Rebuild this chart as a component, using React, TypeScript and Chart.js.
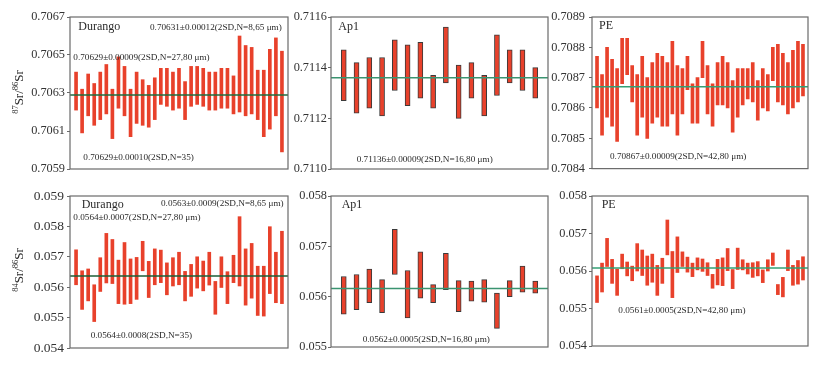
import React, { useEffect, useRef } from 'react';
import { Chart, registerables } from 'chart.js';
Chart.register(...registerables);

// ---------- data ----------
const durangoSrHi = [0.70641,0.70632,0.70640,0.70635,0.70641,0.70645,0.70632,0.70649,0.70644,0.70632,0.70641,0.70637,0.70634,0.70638,0.70643,0.70643,0.70641,0.70643,0.70636,0.70644,0.70644,0.70643,0.70641,0.70641,0.70643,0.70643,0.70639,0.70660,0.70655,0.70654,0.70642,0.70642,0.70653,0.70659,0.70652];
const durangoSrLo = [0.70621,0.70609,0.70618,0.70613,0.70616,0.70619,0.70606,0.70622,0.70618,0.70607,0.70614,0.70613,0.70612,0.70616,0.70624,0.70623,0.70621,0.70622,0.70616,0.70623,0.70624,0.70623,0.70621,0.70621,0.70622,0.70622,0.70619,0.70620,0.70618,0.70619,0.70616,0.70607,0.70611,0.70618,0.70599];
const ap1SrHi = [0.71147,0.71142,0.71144,0.71144,0.71151,0.71149,0.71150,0.71137,0.71156,0.71141,0.71142,0.71137,0.71153,0.71147,0.71147,0.71140];
const ap1SrLo = [0.71127,0.71122,0.71124,0.71121,0.71131,0.71125,0.71128,0.71124,0.71134,0.71120,0.71128,0.71121,0.71129,0.71134,0.71131,0.71128];
const peSrHi = [0.70877,0.70871,0.70880,0.70876,0.70873,0.70883,0.70883,0.70874,0.70871,0.70877,0.70870,0.70875,0.70878,0.70877,0.70875,0.70882,0.70874,0.70873,0.70877,0.70868,0.70870,0.70882,0.70874,0.70868,0.70875,0.70877,0.70875,0.70869,0.70873,0.70873,0.70873,0.70875,0.70869,0.70873,0.70871,0.70880,0.70881,0.70878,0.70875,0.70879,0.70882,0.70881];
const peSrLo = [0.70860,0.70851,0.70857,0.70854,0.70849,0.70868,0.70871,0.70862,0.70851,0.70857,0.70850,0.70855,0.70857,0.70854,0.70854,0.70858,0.70851,0.70858,0.70866,0.70855,0.70855,0.70870,0.70858,0.70854,0.70861,0.70861,0.70860,0.70852,0.70857,0.70861,0.70863,0.70862,0.70856,0.70860,0.70859,0.70869,0.70862,0.70861,0.70858,0.70860,0.70862,0.70864];

const durango84Hi = [0.05723,0.05654,0.05660,0.05608,0.05697,0.05777,0.05757,0.05689,0.05747,0.05693,0.05698,0.05751,0.05685,0.05726,0.05722,0.05680,0.05697,0.05715,0.05652,0.05675,0.05700,0.05686,0.05715,0.05619,0.05700,0.05651,0.05705,0.05832,0.05726,0.05744,0.05669,0.05669,0.05799,0.05715,0.05784];
const durango84Lo = [0.05608,0.05527,0.05555,0.05487,0.05586,0.05614,0.05612,0.05546,0.05544,0.05546,0.05560,0.05654,0.05566,0.05608,0.05615,0.05575,0.05604,0.05608,0.05555,0.05570,0.05597,0.05588,0.05607,0.05511,0.05599,0.05546,0.05615,0.05604,0.05541,0.05564,0.05507,0.05505,0.05579,0.05549,0.05546];
const ap184Hi = [0.05640,0.05644,0.05655,0.05634,0.05734,0.05652,0.05689,0.05624,0.05686,0.05632,0.05631,0.05634,0.05607,0.05632,0.05661,0.05631];
const ap184Lo = [0.05565,0.05574,0.05588,0.05568,0.05644,0.05558,0.05597,0.05588,0.05614,0.05570,0.05591,0.05589,0.05537,0.05600,0.05609,0.05607];
const pe84Hi = [0.05587,0.05621,0.05687,0.05631,0.05605,0.05645,0.05624,0.05613,0.05673,0.05656,0.05640,0.05645,0.05615,0.05634,0.05736,0.05652,0.05691,0.05651,0.05637,0.05621,0.05635,0.05632,0.05622,0.05591,0.05631,0.05635,0.05660,0.05604,0.05661,0.05630,0.05621,0.05622,0.05625,0.05603,0.05630,0.05648,0.05564,0.05583,0.05656,0.05615,0.05628,0.05638];
const pe84Lo = [0.05516,0.05544,0.05612,0.05567,0.05535,0.05606,0.05587,0.05574,0.05600,0.05588,0.05562,0.05570,0.05535,0.05567,0.05643,0.05529,0.05596,0.05612,0.05597,0.05585,0.05603,0.05599,0.05588,0.05554,0.05563,0.05561,0.05601,0.05553,0.05604,0.05603,0.05592,0.05583,0.05587,0.05569,0.05600,0.05615,0.05537,0.05531,0.05601,0.05562,0.05565,0.05576];

const means = [0.70629, 0.71136, 0.70867, 0.05637, 0.05616, 0.05608];

const ticksDurangoSr = [0.7059, 0.7061, 0.7063, 0.7065, 0.7067];
const ticksAp1Sr = [0.7110, 0.7112, 0.7114, 0.7116];
const ticksPeSr = [0.7084, 0.7085, 0.7086, 0.7087, 0.7088, 0.7089];
const ticksDurango84 = [0.054, 0.055, 0.056, 0.057, 0.058, 0.059];
const ticksAp184 = [0.055, 0.056, 0.057, 0.058];
const ticksPe84 = [0.054, 0.055, 0.056, 0.057, 0.058];

const titlesTop = ['Durango', 'Ap1', 'PE'];
const notesDurangoSr = ['0.70631±0.00012(2SD,N=8,65 μm)', '0.70629±0.00009(2SD,N=27,80 μm)', '0.70629±0.00010(2SD,N=35)'];
const notesAp1Sr = ['0.71136±0.00009(2SD,N=16,80 μm)'];
const notesPeSr = ['0.70867±0.00009(2SD,N=42,80 μm)'];
const notesDurango84 = ['0.0563±0.0009(2SD,N=8,65 μm)', '0.0564±0.0007(2SD,N=27,80 μm)', '0.0564±0.0008(2SD,N=35)'];
const notesAp184 = ['0.0562±0.0005(2SD,N=16,80 μm)'];
const notesPe84 = ['0.0561±0.0005(2SD,N=42,80 μm)'];

// ---------- layout ----------
type Note = { text: string; dx: number; dy: number; size: number };
type Panel = {
  hi: number[]; lo: number[]; mean: number; ticks: number[]; dec: number;
  canvas: [number, number, number, number]; box: [number, number, number, number];
  lineColor: string; barW: number; barBorder: number; tickPad: number; tickSize: number;
  notes: Note[]; ytitle?: { main: string; sup: string; cx: number; cy: number };
};

const SERIF = "'Liberation Serif', 'Times New Roman', serif";

const panels: Panel[] = [
  {
    hi: durangoSrHi, lo: durangoSrLo, mean: means[0], ticks: ticksDurangoSr, dec: 4,
    canvas: [0, 0, 292, 180], box: [70, 17, 288, 169], lineColor: '#1f6b3e', barW: 3, barBorder: 0,
    tickPad: 2, tickSize: 12.3,
    notes: [
      { text: titlesTop[0], dx: 8.3, dy: 9.5, size: 12 },
      { text: notesDurangoSr[0], dx: 80, dy: 11, size: 9.2 },
      { text: notesDurangoSr[1], dx: 3.3, dy: 40.3, size: 9.2 },
      { text: notesDurangoSr[2], dx: 13.3, dy: 140.7, size: 9.2 },
    ],
    ytitle: { main: '87', sup: '86', cx: 23, cy: 92 },
  },
  {
    hi: ap1SrHi, lo: ap1SrLo, mean: means[1], ticks: ticksAp1Sr, dec: 4,
    canvas: [286, 0, 552, 180], box: [331, 17, 548, 169], lineColor: '#3a9470', barW: 5, barBorder: 1,
    tickPad: 1, tickSize: 12.3,
    notes: [
      { text: titlesTop[1], dx: 7.3, dy: 9.5, size: 12 },
      { text: notesAp1Sr[0], dx: 25.7, dy: 143, size: 9.2 },
    ],
  },
  {
    hi: peSrHi, lo: peSrLo, mean: means[2], ticks: ticksPeSr, dec: 4,
    canvas: [547, 0, 812, 180], box: [592, 17, 808, 169], lineColor: '#33a074', barW: 3, barBorder: 0,
    tickPad: 4, tickSize: 12.3,
    notes: [
      { text: titlesTop[2], dx: 7, dy: 8.5, size: 12 },
      { text: notesPeSr[0], dx: 18, dy: 139.7, size: 9.2 },
    ],
  },
  {
    hi: durango84Hi, lo: durango84Lo, mean: means[3], ticks: ticksDurango84, dec: 3,
    canvas: [0, 180, 292, 370], box: [70, 196, 288, 348], lineColor: '#1d5e36', barW: 3, barBorder: 0,
    tickPad: 3, tickSize: 13.5,
    notes: [
      { text: titlesTop[0], dx: 11.7, dy: 8.5, size: 12 },
      { text: notesDurango84[0], dx: 91, dy: 8, size: 9.2 },
      { text: notesDurango84[1], dx: 3.3, dy: 21.7, size: 9.2 },
      { text: notesDurango84[2], dx: 20.7, dy: 139.3, size: 9.2 },
    ],
    ytitle: { main: '84', sup: '86', cx: 23, cy: 270 },
  },
  {
    hi: ap184Hi, lo: ap184Lo, mean: means[4], ticks: ticksAp184, dec: 3,
    canvas: [286, 180, 552, 370], box: [331, 196, 548, 347], lineColor: '#3a9470', barW: 5, barBorder: 1,
    tickPad: 1, tickSize: 12.3,
    notes: [
      { text: titlesTop[1], dx: 10.7, dy: 8.5, size: 12 },
      { text: notesAp184[0], dx: 31.7, dy: 143.3, size: 9.2 },
    ],
  },
  {
    hi: pe84Hi, lo: pe84Lo, mean: means[5], ticks: ticksPe84, dec: 3,
    canvas: [547, 180, 812, 370], box: [592, 196, 808, 346], lineColor: '#33a074', barW: 3, barBorder: 0,
    tickPad: 2, tickSize: 12.3,
    notes: [
      { text: titlesTop[2], dx: 9.7, dy: 8.5, size: 12 },
      { text: notesPe84[0], dx: 26.3, dy: 115, size: 9.2 },
    ],
  },
];

function PanelChart({ p }: { p: Panel }) {
  const ref = useRef<HTMLCanvasElement>(null);
  const [cl, ct, cr, cb] = p.canvas;
  const [bl, bt, br, bb] = p.box;
  const w = cr - cl;
  const h = cb - ct;

  useEffect(() => {
    const canvas = ref.current!;
    const n = p.hi.length;
    const bars = p.hi.map((v, i) => ({ x: i + 1, y: [p.lo[i], v] }));
    const decor = {
      id: 'decor',
      afterDraw(chart: any) {
        const ctx = chart.ctx as CanvasRenderingContext2D;
        const a = chart.chartArea;
        ctx.save();
        ctx.strokeStyle = '#6a6a6a';
        ctx.lineWidth = 1.2;
        ctx.strokeRect(a.left, a.top, a.right - a.left, a.bottom - a.top);
        ctx.fillStyle = '#2a2a2a';
        ctx.textBaseline = 'middle';
        ctx.textAlign = 'left';
        for (const note of p.notes) {
          ctx.font = `${note.size}px ${SERIF}`;
          ctx.fillText(note.text, a.left + note.dx, a.top + note.dy);
        }
        if (p.ytitle) {
          const t = p.ytitle;
          ctx.translate(t.cx - cl, t.cy - ct);
          ctx.rotate(-Math.PI / 2);
          ctx.textBaseline = 'alphabetic';
          const big = `13px ${SERIF}`;
          const small = `8.5px ${SERIF}`;
          const parts: [string, string, number][] = [
            [t.main, small, -5], ['Sr/', big, 0], [t.sup, small, -5], ['Sr', big, 0],
          ];
          let total = 0;
          for (const [s, f] of parts) { ctx.font = f; total += ctx.measureText(s).width; }
          let x = -total / 2;
          for (const [s, f, dy] of parts) {
            ctx.font = f;
            ctx.fillText(s, x, dy);
            x += ctx.measureText(s).width;
          }
        }
        ctx.restore();
      },
    };
    const chart = new Chart(canvas, {
      type: 'bar',
      data: {
        datasets: [
          {
            type: 'line',
            data: [{ x: 0, y: p.mean }, { x: n + 1, y: p.mean }],
            borderColor: p.lineColor,
            borderWidth: 1.5,
            pointRadius: 0,
            order: 0,
          } as any,
          {
            type: 'bar',
            data: bars,
            backgroundColor: '#e8412b',
            borderColor: '#3a3a3a',
            borderWidth: p.barBorder,
            borderSkipped: false,
            barThickness: p.barW,
            order: 1,
          } as any,
        ],
      },
      options: {
        responsive: false,
        animation: false,
        events: [],
        layout: { padding: { left: 0, top: bt - ct, right: cr - br, bottom: cb - bb } },
        plugins: { legend: { display: false }, tooltip: { enabled: false }, title: { display: false } },
        scales: {
          x: { type: 'linear', min: 0, max: n + 1, display: false, offset: false },
          y: {
            type: 'linear',
            min: p.ticks[0],
            max: p.ticks[p.ticks.length - 1],
            afterBuildTicks: (s: any) => { s.ticks = p.ticks.map((v) => ({ value: v })); },
            afterFit: (s: any) => { s.width = bl - cl; },
            ticks: {
              callback: (v: any) => Number(v).toFixed(p.dec),
              font: { family: SERIF, size: p.tickSize },
              color: '#333',
              padding: p.tickPad,
            },
            grid: { drawOnChartArea: false, drawTicks: true, tickLength: 3, color: '#6a6a6a' },
            border: { display: false },
          },
        },
      } as any,
      plugins: [decor],
    });
    return () => chart.destroy();
  }, []);

  return (
    <canvas
      ref={ref}
      width={w}
      height={h}
      style={{ position: 'absolute', left: cl, top: ct, width: w, height: h }}
    />
  );
}

export default function App() {
  return (
    <div style={{ position: 'absolute', left: 0, top: 0, width: 819, height: 370, background: '#fff', overflow: 'hidden' }}>
      {panels.map((p, i) => (
        <PanelChart key={i} p={p} />
      ))}
    </div>
  );
}
